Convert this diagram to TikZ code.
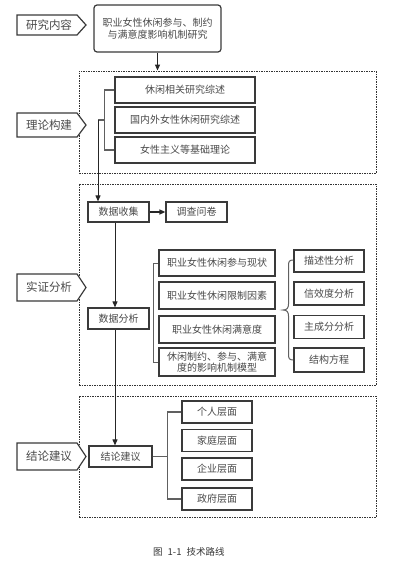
\documentclass[tikz,border=0pt]{standalone}
\usepackage{fontspec}
\newfontfamily\cjk{Noto Sans CJK SC}
\usetikzlibrary{arrows.meta}
\definecolor{txt}{HTML}{4A4A4A}
\definecolor{edge}{HTML}{3A3A3A}
\definecolor{lnk}{HTML}{606060}
\tikzset{
  boxx/.style={draw=edge, line width=1.2pt, fill=white, inner sep=0pt, text=txt,
    font=\cjk\fontsize{10}{12}\selectfont, align=center},
  dashbox/.style={draw=black!80, line width=0.9pt, dash pattern=on 1.5pt off 1pt, inner sep=0pt},
  pent/.style={draw=edge, line width=1.2pt, fill=white},
  plabel/.style={inner sep=0pt, text=txt, font=\cjk\fontsize{11.5}{13}\selectfont},
  link/.style={draw=lnk, line width=1.2pt},
  arr/.style={draw=black!85, line width=1pt, -{Triangle[length=6pt,width=5pt]}},
}
\begin{document}
\begin{tikzpicture}[x=1pt,y=-1pt]
\useasboundingbox (0,0) rectangle (405,573);

% dashed stage frames
\node[dashbox, minimum width=297, minimum height=102] (f1) at (227.5,122) {};
\node[dashbox, minimum width=297, minimum height=201] (f2) at (227.5,284.5) {};
\node[dashbox, minimum width=297, minimum height=121] (f3) at (227.5,456.5) {};

% left pentagon labels
\draw[pent] (17,15) -- (77,15) -- (86,25) -- (77,35) -- (17,35) -- cycle;
\node[plabel] (p1) at (49,25) {研究内容};
\draw[pent] (17,113) -- (77,113) -- (86,125) -- (77,137) -- (17,137) -- cycle;
\node[plabel] (p2) at (49,125) {理论构建};
\draw[pent] (17,274) -- (77,274) -- (86,287.5) -- (77,301) -- (17,301) -- cycle;
\node[plabel] (p3) at (49,287.5) {实证分析};
\draw[pent] (17,443) -- (77,443) -- (86,456.5) -- (77,470) -- (17,470) -- cycle;
\node[plabel] (p4) at (49,456.5) {结论建议};

% top
\node[boxx, rounded corners=3pt, minimum width=127, minimum height=47] (top) at (157.5,28.5)
  {职业女性休闲参与、制约\\与满意度影响机制研究};
\draw[arr] (top.south) -- (top.south |- f1.north);

% theory
\node[boxx, minimum width=140, minimum height=26] (t1) at (185,90) {休闲相关研究综述};
\node[boxx, minimum width=140, minimum height=26] (t2) at (185,120) {国内外女性休闲研究综述};
\node[boxx, minimum width=140, minimum height=26] (t3) at (185,150) {女性主义等基础理论};
\draw[link] (t1.west) -- ++(-10,0) |- (t3.west);
\coordinate (tj) at (105,120);

% empirical
\node[boxx, minimum width=61, minimum height=20] (dc) at (118.5,212) {数据收集};
\node[boxx, minimum width=61, minimum height=20] (sv) at (196.5,212) {调查问卷};
\draw[link] (tj) -- ++(-7,0) coordinate (tk);
\draw[arr] (tk) -- (tk |- dc.north);
\draw[arr, line width=1.4pt] (dc.east) -- (sv.west);

\node[boxx, minimum width=61, minimum height=21] (da) at (118.5,318.5) {数据分析};
\coordinate (xl) at (115,0);
\draw[arr] (dc.south -| xl) -- (da.north -| xl);

\node[boxx, minimum width=116, minimum height=26] (a1) at (217,263) {职业女性休闲参与现状};
\node[boxx, minimum width=116, minimum height=27] (a2) at (217,295.5) {职业女性休闲限制因素};
\node[boxx, minimum width=116, minimum height=27] (a3) at (217,329.5) {职业女性休闲满意度};
\node[boxx, minimum width=116, minimum height=28, font=\cjk\fontsize{10}{11}\selectfont] (a4) at (217,362) {休闲制约、参与、满意\\度的影响机制模型};
\draw[link, line width=1pt] (a1.west) -- ++(-5,0) |- (a4.west);

\node[boxx, minimum width=70, minimum height=22] (r1) at (329,261) {描述性分析};
\node[boxx, minimum width=70, minimum height=23] (r2) at (329,293.5) {信效度分析};
\node[boxx, minimum width=70, minimum height=23] (r3) at (329,327) {主成分分析};
\node[boxx, minimum width=70, minimum height=24] (r4) at (329,360) {结构方程};
\draw[draw=lnk, line width=1pt] (293,260) .. controls (289,260) and (288.5,262) .. (288.5,266)
  -- (288.5,304) .. controls (288.5,308) and (287,310) .. (283,310)
  .. controls (287,310) and (288.5,312) .. (288.5,316)
  -- (288.5,354) .. controls (288.5,358) and (289,360) .. (293,360);

% conclusion
\node[boxx, minimum width=63, minimum height=21] (cs) at (120.5,456.5) {结论建议};
\draw[arr] (da.south -| xl) -- (cs.north -| xl);
\node[boxx, minimum width=70, minimum height=22] (c1) at (217,412) {个人层面};
\node[boxx, minimum width=70, minimum height=22] (c2) at (217,440.5) {家庭层面};
\node[boxx, minimum width=70, minimum height=22] (c3) at (217,469) {企业层面};
\node[boxx, minimum width=70, minimum height=22] (c4) at (217,499) {政府层面};
\draw[link] (c1.west) -- ++(-14,0) coordinate (cb) |- (c4.west);
\draw[link] (cs.east) -- (cs.east -| cb);

% caption
\node[inner sep=0pt, anchor=west, text=black!80, font=\cjk\fontsize{9.5}{10}\selectfont] (cap) at (153,552)
  {图\hspace{5pt}1-1\hspace{5pt}技术路线};
\end{tikzpicture}
\end{document}
